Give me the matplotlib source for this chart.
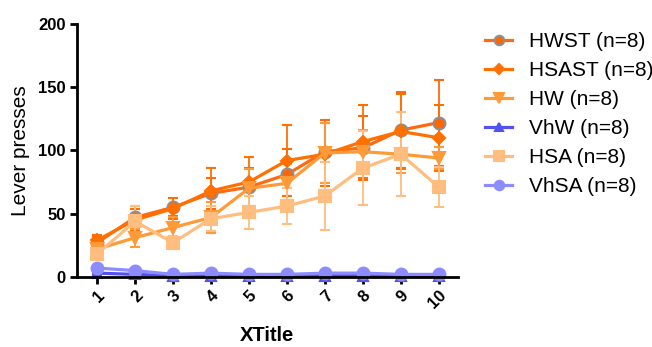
import numpy as np
import matplotlib.pyplot as plt
from matplotlib.lines import Line2D

plt.rcParams['font.family'] = ['Liberation Sans', 'DejaVu Sans']

sessions = np.arange(1, 11)
tick_labels = [str(s) for s in sessions]

groups = ['HWST (n=8)', 'HSAST (n=8)', 'HW (n=8)', 'VhW (n=8)', 'HSA (n=8)', 'VhSA (n=8)']

hwst = [27, 47, 55, 66, 71, 81, 99, 102, 116, 122]
hwst_err = [5, 9, 7, 12, 15, 20, 25, 25, 30, 34]
hsast = [29, 45, 54, 68, 75, 92, 97, 107, 115, 110]
hsast_err = [4, 9, 8, 18, 20, 28, 25, 29, 30, 26]
hw = [22, 31, 39, 47, 70, 74, 98, 99, 97, 94]
hw_err = [4, 7, 8, 12, 15, 15, 24, 17, 15, 9]
vhw = [3, 2, 1, 1, 1, 1, 1, 1, 1, 1]
vhw_err = [1, 1, 0.5, 0.5, 0.5, 0.5, 0.5, 0.5, 0.5, 0.5]
hsa = [18, 44, 27, 46, 51, 56, 64, 86, 97, 71]
hsa_err = [4, 12, 5, 10, 13, 14, 27, 29, 33, 16]
vhsa = [7, 5, 2, 3, 2, 2, 3, 3, 2, 2]
vhsa_err = [1.5, 1, 0.5, 1, 0.5, 0.5, 1, 1, 0.5, 0.5]

values = [hwst, hsast, hw, vhw, hsa, vhsa]
errors = [hwst_err, hsast_err, hw_err, vhw_err, hsa_err, vhsa_err]

# line colour, marker, marker face, marker edge, marker size
styles = [
    ('#FF6A10', 'o', '#FF6600', '#8F8F8F', 8.5),
    ('#FF7000', 'D', '#FF7000', '#FF7000', 6.5),
    ('#FF9A38', 'v', '#FF9A38', '#FF9A38', 8.5),
    ('#5252F2', '^', '#5252F2', '#5252F2', 7.5),
    ('#FFBD80', 's', '#FFBD80', '#FFBD80', 8.5),
    ('#8C8CFF', 'o', '#8C8CFF', '#8C8CFF', 8.5),
]

fig = plt.figure(figsize=(6.52, 3.47), dpi=100)
ax = fig.add_axes([0.118, 0.202, 0.584, 0.729])

handles = []
for name, y, e, (c, m, fc, ec, ms) in zip(groups, values, errors, styles):
    ax.errorbar(sessions, y, yerr=e, color=c, marker=m, markerfacecolor=fc,
                markeredgecolor=ec, markeredgewidth=1.5, markersize=ms,
                linewidth=2.3, elinewidth=1.3, capsize=3.6, capthick=1.3,
                label=name, clip_on=False)
    handles.append(Line2D([], [], color=c, marker=m, markerfacecolor=fc,
                          markeredgecolor=ec, markeredgewidth=1.5,
                          markersize=ms * 0.8, linewidth=2.3))

ax.set_xlim(0.47, 10.5)
ax.set_ylim(0, 200)
ax.set_yticks([0, 50, 100, 150, 200])
ax.set_xticks(sessions)
ax.set_xticklabels(tick_labels, rotation=45, ha='right', rotation_mode='anchor')

for side in ['top', 'right']:
    ax.spines[side].set_visible(False)
for side in ['left', 'bottom']:
    ax.spines[side].set_linewidth(2)
ax.tick_params(width=2, length=5, labelsize=12, pad=3)
for lbl in ax.get_xticklabels() + ax.get_yticklabels():
    lbl.set_fontweight('bold')

ax.set_ylabel('Lever presses', fontsize=15, labelpad=6)
ax.set_xlabel('XTitle', fontsize=14.5, fontweight='bold', labelpad=10)

fig.legend(handles=handles, labels=groups, loc='center left',
           bbox_to_anchor=(0.744, 0.672), frameon=False, fontsize=15,
           handlelength=1.3, handletextpad=0.8, labelspacing=0.48,
           borderpad=0, borderaxespad=0)

fig.savefig('out.png', dpi=100)
